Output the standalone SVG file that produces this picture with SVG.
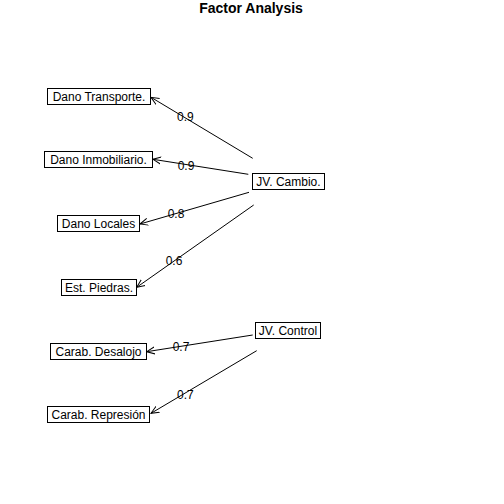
<svg xmlns="http://www.w3.org/2000/svg" width="504" height="504" viewBox="0 0 504 504">
<style>
.box{fill:#fff;stroke:#000;stroke-width:1}
.t{font-family:"Liberation Sans",Arial,sans-serif;font-size:12px;fill:#000;text-anchor:middle}
.title{font-family:"Liberation Sans",Arial,sans-serif;font-size:14px;font-weight:bold;text-anchor:middle}
.c{stroke:#000;stroke-width:1;fill:none;marker-end:url(#ah)}
</style>
<defs>
<marker id="ah" markerUnits="userSpaceOnUse" markerWidth="10" markerHeight="10" refX="8" refY="5" orient="auto" viewBox="0 0 10 10">
<path d="M0,1.5 L8,5 L0,8.5" fill="none" stroke="#000" stroke-width="1"/>
</marker>
</defs>
<rect width="504" height="504" fill="#fff"/>
<text class="title" x="251" y="12.5">Factor Analysis</text>
<g id="connectors">
<line class="c" x1="252.7" y1="158.3" x2="151" y2="97.3"/>
<line class="c" x1="248.3" y1="174.3" x2="153" y2="159.3"/>
<line class="c" x1="249" y1="192.3" x2="140" y2="224"/>
<line class="c" x1="253.7" y1="205" x2="136.7" y2="287.3"/>
<line class="c" x1="252.7" y1="335" x2="146.7" y2="351.7"/>
<line class="c" x1="256.7" y1="350.7" x2="151" y2="413.3"/>
<text class="t" x="185.3" y="120.5">0.9</text>
<text class="t" x="186" y="169.5">0.9</text>
<text class="t" x="176" y="217.5">0.8</text>
<text class="t" x="174" y="265">0.6</text>
<text class="t" x="181" y="350.5">0.7</text>
<text class="t" x="185.3" y="398.5">0.7</text>
</g>
<g id="n1"><rect class="box" x="47.5" y="88.5" width="103" height="16"/><text class="t" x="99" y="101">Dano Transporte.</text></g>
<g id="n2"><rect class="box" x="44.5" y="151.5" width="108" height="16"/><text class="t" x="98.5" y="164">Dano Inmobiliario.</text></g>
<g id="n3"><rect class="box" x="57.5" y="215.5" width="82" height="16"/><text class="t" x="98.5" y="228">Dano Locales</text></g>
<g id="n4"><rect class="box" x="61.5" y="279.5" width="75" height="16"/><text class="t" x="99" y="292">Est. Piedras.</text></g>
<g id="n5"><rect class="box" x="252.5" y="173.5" width="72" height="16"/><text class="t" x="288.5" y="186">JV. Cambio.</text></g>
<g id="n6"><rect class="box" x="255.5" y="322.5" width="65" height="16"/><text class="t" x="288" y="335">JV. Control</text></g>
<g id="n7"><rect class="box" x="50.5" y="343.5" width="96" height="16"/><text class="t" x="98.5" y="356">Carab. Desalojo</text></g>
<g id="n8"><rect class="box" x="47.5" y="406.5" width="102" height="16"/><text class="t" x="98.5" y="419">Carab. Represión</text></g>
</svg>
